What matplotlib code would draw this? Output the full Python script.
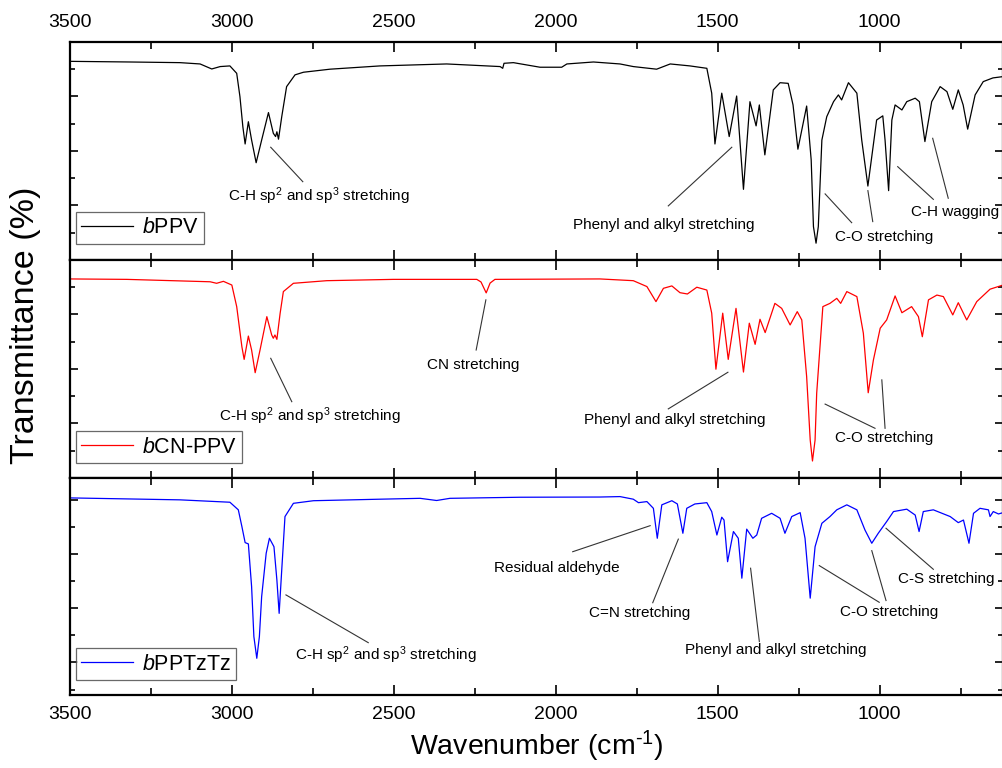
import matplotlib
matplotlib.use("Agg")
import matplotlib.pyplot as plt
from matplotlib.ticker import MultipleLocator, FixedLocator, NullFormatter

plt.rcParams["font.family"] = ["Liberation Sans", "DejaVu Sans"]
plt.rcParams["mathtext.fontset"] = "custom"
plt.rcParams["mathtext.rm"] = "Liberation Sans"
plt.rcParams["mathtext.it"] = "Liberation Sans:italic"

# ---- spectra (wavenumber cm-1, transmittance %) ----
ppv_wn = [3500, 3313, 3159, 3097, 3061, 3035, 3005, 2984, 2974, 2965, 2958,
          2948, 2938, 2924, 2907, 2886, 2871, 2864, 2860, 2855, 2845, 2830,
          2804, 2778, 2696, 2542, 2336, 2171, 2163, 2159, 2130, 2048, 1981,
          1965, 1883, 1801, 1760, 1688, 1646, 1585, 1533, 1518, 1508, 1487,
          1464, 1441, 1420, 1400, 1381, 1371, 1354, 1328, 1307, 1282, 1267,
          1252, 1225, 1211, 1204, 1196, 1189, 1178, 1163, 1142, 1127, 1117, 1096, 1070,
          1055, 1036, 1024, 1009, 990, 983, 972, 962, 952, 931, 916, 890,
          877, 860, 839, 813, 792, 774, 757, 742, 728, 705, 680, 650, 619]
ppv_t = [91.1, 90.8, 90.5, 89.9, 87.6, 88.7, 89.0, 85.6, 74.9, 61.1, 53.2,
         63.4, 55.0, 44.6, 55.0, 67.6, 58.1, 56.6, 58.8, 55.4, 65.7, 79.5,
         84.9, 86.1, 87.5, 89.0, 89.9, 88.7, 87.9, 90.2, 90.5, 88.4, 88.4,
         89.9, 90.8, 89.9, 88.7, 87.5, 89.9, 89.0, 87.9, 76.5, 53.2, 76.5,
         56.6, 75.2, 32.4, 72.6, 61.5, 71.1, 48.2, 78.0, 81.3, 81.0, 71.1,
         50.8, 70.6, 45.9, 15.3, 7.7, 15.3, 55.0, 65.7, 72.6, 75.7, 73.4, 81.3, 76.5,
         55.0, 33.9, 47.4, 64.2, 66.1, 55.0, 31.8, 64.2, 71.1, 68.8, 72.6, 74.2,
         72.6, 54.3, 72.6, 79.5, 77.2, 69.1, 78.0, 71.1, 60.0, 75.7, 81.8, 83.5, 84.1]

cnppv_wn = [3500, 3323, 3066, 3046, 3025, 2999, 2984, 2968, 2961, 2948, 2938,
            2927, 2912, 2891, 2876, 2871, 2866, 2860, 2850, 2840, 2809, 2706,
            2501, 2243, 2230, 2214, 2202, 2187, 1863, 1760, 1718, 1690, 1667,
            1641, 1616, 1593, 1564, 1533, 1518, 1505, 1484, 1467, 1443, 1420,
            1402, 1384, 1369, 1353, 1323, 1302, 1276, 1254, 1240, 1225, 1214, 1207,
            1199, 1194, 1175, 1153, 1132, 1120, 1101, 1070, 1050, 1035, 1019, 998,
            978, 952, 931, 901, 880, 868, 849, 823, 803, 774, 757, 731, 700,
            659, 619]
cnppv_t = [91.3, 91.1, 90.0, 89.3, 90.2, 88.5, 78.6, 60.2, 54.4, 65.1, 58.7,
           48.3, 58.7, 74.0, 65.6, 64.1, 65.6, 63.6, 75.5, 85.5, 89.3, 90.5,
           91.1, 91.1, 89.9, 84.9, 89.4, 91.1, 91.3, 90.5, 87.8, 80.9, 87.0,
           88.1, 85.0, 84.4, 87.5, 86.2, 75.6, 49.9, 75.6, 54.4, 77.8, 48.6,
           71.0, 61.3, 72.8, 66.7, 80.1, 77.8, 70.2, 76.3, 72.5, 46.5, 17.4, 7.8,
           17.4, 38.9, 78.6, 80.1, 82.4, 80.1, 85.5, 83.2, 66.4, 39.1, 54.1, 68.7,
           72.5, 83.5, 75.8, 78.6, 74.0, 64.8, 81.7, 83.9, 83.2, 74.8, 80.4,
           72.5, 80.9, 86.6, 88.5]

tztz_wn = [3500, 3159, 3005, 2979, 2968, 2958, 2948, 2938, 2931, 2922, 2914, 2907, 2893,
           2883, 2869, 2860, 2853, 2845, 2835, 2809, 2747, 2542, 2418, 2367,
           2326, 2110, 1863, 1801, 1760, 1744, 1718, 1698, 1686, 1672, 1641,
           1624, 1607, 1595, 1570, 1533, 1518, 1502, 1487, 1480, 1469, 1451,
           1436, 1425, 1410, 1391, 1379, 1364, 1333, 1307, 1292, 1271, 1245,
           1230, 1214, 1199, 1178, 1153, 1132, 1101, 1070, 1045, 1024, 1004,
           978, 957, 916, 890, 878, 865, 834, 782, 757, 741, 724, 710, 690,
           664, 659, 649, 633, 619]
tztz_t = [90.8, 89.9, 88.8, 85.3, 77.6, 70.2, 69.6, 49.9, 26.9, 16.9, 26.9, 45.3, 65.3,
          72.2, 68.3, 53.0, 37.6, 57.6, 82.2, 88.3, 89.5, 90.2, 90.6, 89.6,
          90.6, 91.1, 91.2, 91.4, 90.2, 88.6, 89.1, 86.0, 72.2, 87.6, 89.5,
          88.0, 74.5, 86.0, 88.0, 88.6, 84.5, 73.7, 81.9, 80.6, 61.4, 75.3,
          72.2, 53.8, 76.4, 72.2, 73.7, 81.4, 83.7, 81.4, 74.5, 82.2, 84.0,
          72.2, 44.6, 68.3, 79.1, 82.2, 85.3, 87.6, 85.3, 76.0, 69.9, 74.5,
          79.9, 84.5, 85.6, 82.9, 75.3, 84.5, 85.3, 82.2, 79.4, 80.6, 69.9,
          83.7, 86.0, 85.3, 82.2, 84.5, 83.4, 84.0]

names = ["bPPV", "bCN-PPV", "bPPTzTz"]
colors = ["#000000", "#ff0000", "#0000ff"]

# annotations: (text, text wn, text T, [line segments ((wn0, T0), (wn1, T1))])
ppv_notes = [
    ("C-H sp$^2$ and sp$^3$ stretching", 2730, 29.4, [((2879, 51.7), (2780, 35.9))]),
    ("Phenyl and alkyl stretching", 1665, 16.1, [((1652, 24.8), (1456, 51.7))]),
    ("C-O stretching", 986, 10.7, [((1168, 30.3), (1086, 17.1)),
                                   ((1036, 31.8), (1021, 17.6))]),
    ("C-H wagging", 767, 22.2, [((944, 42.8), (834, 27.8)),
                                ((836, 55.8), (788, 28.3))]),
]
cnppv_notes = [
    ("CN stretching", 2255, 51.8, [((2215, 81.7), (2245, 58.7))]),
    ("C-H sp$^2$ and sp$^3$ stretching", 2758, 28.4, [((2879, 54.9), (2814, 35.0))]),
    ("Phenyl and alkyl stretching", 1631, 26.6, [((1652, 31.7), (1468, 48.5))]),
    ("C-O stretching", 986, 18.2, [((1168, 33.9), (1014, 22.8)),
                                   ((993, 45.0), (983, 22.8))]),
]
tztz_notes = [
    ("C-H sp$^2$ and sp$^3$ stretching", 2522, 18.1, [((2832, 46.1), (2578, 24.1))]),
    ("Residual aldehyde", 1996, 58.4, [((1947, 66.0), (1708, 78.0))]),
    ("C=N stretching", 1739, 37.6, [((1700, 42.5), (1621, 71.8))]),
    ("Phenyl and alkyl stretching", 1321, 20.7, [((1371, 24.6), (1398, 58.4))]),
    ("C-O stretching", 969, 38.1, [((1186, 59.6), (1001, 42.7)),
                                   ((1024, 66.5), (980, 43.5))]),
    ("C-S stretching", 793, 53.5, [((980, 76.8), (834, 57.9))]),
]

y_major = [[25, 50, 75], [25, 50, 75], [15, 40, 65, 90]]
y_minor = [[12.5, 37.5, 62.5, 87.5], [12.5, 37.5, 62.5, 87.5], [2.5, 27.5, 52.5, 77.5]]


def legend_label(name):
    return r"$\it{b}$" + name[1:]


def setup_panel(ax, idx):
    ax.set_xlim(3500, 619)
    ax.set_ylim(0, 100)
    ax.xaxis.set_major_locator(MultipleLocator(500))
    ax.xaxis.set_minor_locator(MultipleLocator(250))
    ax.yaxis.set_major_locator(FixedLocator(y_major[idx]))
    ax.yaxis.set_minor_locator(FixedLocator(y_minor[idx]))
    ax.yaxis.set_major_formatter(NullFormatter())
    ax.tick_params(which="both", direction="in", top=True, bottom=True,
                   left=True, right=True, width=1.2, labelleft=False,
                   labelbottom=(idx == 2), labeltop=(idx == 0),
                   labelsize=14, pad=8)
    ax.tick_params(which="major", axis="x", length=7)
    ax.tick_params(which="minor", axis="x", length=5)
    ax.tick_params(which="major", axis="y", length=6)
    ax.tick_params(which="minor", axis="y", length=3.5)
    for s in ax.spines.values():
        s.set_linewidth(1.6)


def draw_notes(ax, notes):
    for text, tx, ty, segs in notes:
        ax.text(tx, ty, text, ha="center", va="center", fontsize=11, clip_on=False)
        for (x0, y0), (x1, y1) in segs:
            ax.plot([x0, x1], [y0, y1], color="#333333", lw=0.8)


fig = plt.figure(figsize=(10.03, 7.68), dpi=100)
left, width = 0.0693, 0.9307
axes = [fig.add_axes([left, 0.6615, width, 0.2839]),
        fig.add_axes([left, 0.3776, width, 0.2839]),
        fig.add_axes([left, 0.0951, width, 0.2826])]

spectra = [(ppv_wn, ppv_t, ppv_notes), (cnppv_wn, cnppv_t, cnppv_notes),
           (tztz_wn, tztz_t, tztz_notes)]
leg_y = [0.075, 0.068, 0.068]

for i, ax in enumerate(axes):
    wn, t, notes = spectra[i]
    ax.plot(wn, t, color=colors[i], lw=0.9, label=legend_label(names[i]))
    setup_panel(ax, i)
    draw_notes(ax, notes)
    leg = ax.legend(loc="lower left", bbox_to_anchor=(0.007, leg_y[i]),
                    borderaxespad=0, fontsize=15.5, frameon=True, fancybox=False,
                    handlelength=2.4, handletextpad=0.4, borderpad=0.25)
    leg.get_frame().set_edgecolor("#444444")
    leg.get_frame().set_linewidth(0.9)

axes[1].set_ylabel("Transmittance (%)", fontsize=24.5)
axes[1].yaxis.set_label_coords(-0.031, 0.70)
axes[2].set_xlabel(r"Wavenumber (cm$^{\text{-}1}$)", fontsize=20.5, labelpad=4)

fig.savefig("out.png", dpi=100)
